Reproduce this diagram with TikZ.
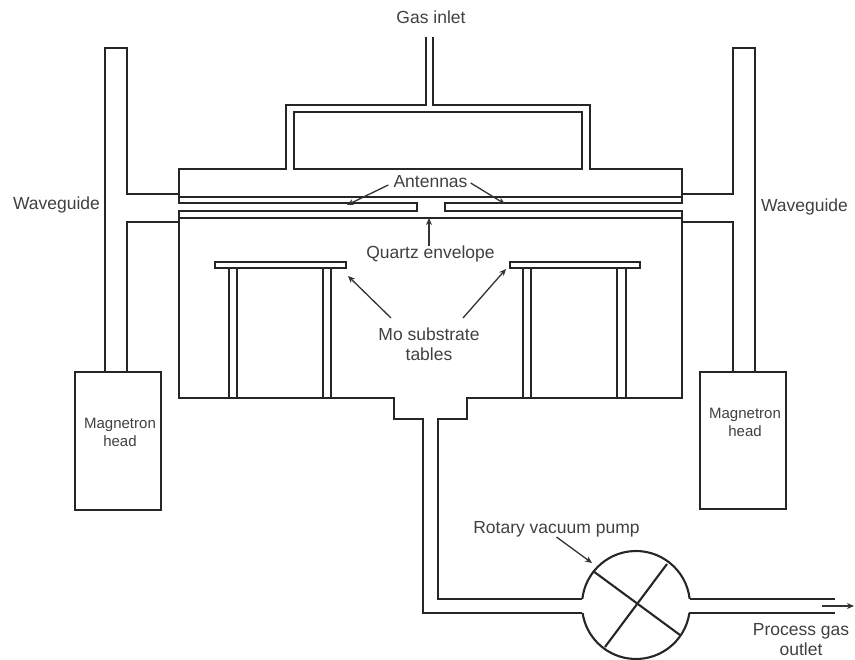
\documentclass[tikz,border=0pt]{standalone}
\usepackage{fontspec}
\setmainfont{Liberation Sans}
\usetikzlibrary{arrows.meta}

\begin{document}
\begin{tikzpicture}
[x=1pt, y=-1pt, >=Stealth,
    wall/.style={draw=black!85, line width=2.1pt, line join=miter},
    leader/.style={draw=black!80, line width=1.3pt, ->, >={Stealth[length=7pt,width=6pt]}},
    every node/.style={text=black!75, font=\fontsize{17.5}{20}\selectfont, align=center, inner sep=0pt},
    headtext/.style={font=\fontsize{15}{18}\selectfont},
    ]
    \useasboundingbox (0,0) rectangle (855,660);

    % gas feed and top box
    \path[wall] (426,37) -- (426,105) -- (286,105) -- (286,169) -- (179,169) -- (179,203)
        -- (417,203) -- (417,211) -- (179,211) -- (179,398) -- (394,398) -- (394,419)
        -- (423,419) -- (423,613) -- (582,613);
    \path[wall] (433,37) -- (433,105) -- (590,105) -- (590,169) -- (682,169) -- (682,203)
        -- (445,203) -- (445,211) -- (682,211) -- (682,398) -- (467,398) -- (467,419)
        -- (438,419) -- (438,599) -- (582,599);
    \path[wall] (294,112) rectangle (582,169);
    \path[wall] (179,197) -- (682,197);
    \path[wall] (179,218) -- (682,218);

    % waveguides
    \path[wall] (179,222) -- (127,222) -- (127,372);
    \path[wall] (179,194) -- (127,194) -- (127,48) -- (105,48) -- (105,372);
    \path[wall] (682,194) -- (733,194) -- (733,48) -- (755,48) -- (755,372);
    \path[wall] (682,222) -- (733,222) -- (733,372);

    % magnetrons
    \path[wall] (75,372) rectangle (161,510);
    \path[wall] (700,372) rectangle (786,509);
    \node[headtext] (head_left) at (120,432) {Magnetron\\head};
    \node[headtext] (head_right) at (745,422) {Magnetron\\head};

    % substrate tables
    \path[wall] (215,262) rectangle (346,268);
    \path[wall] (229,268) -- (229,398);
    \path[wall] (237,268) -- (237,398);
    \path[wall] (323,268) -- (323,398);
    \path[wall] (331,268) -- (331,398);
    \path[wall] (510,262) rectangle (640,268);
    \path[wall] (523,268) -- (523,398);
    \path[wall] (531,268) -- (531,398);
    \path[wall] (617,268) -- (617,398);
    \path[wall] (626,268) -- (626,398);

    % pump
    \coordinate (pump) at (636,605);
    \path[wall] (pump) ++(-6.4:54) arc[start angle=-6.4, end angle=-173.6, radius=54];
    \path[wall] (pump) ++(8.5:54) arc[start angle=8.5, end angle=171.5, radius=54];
    \path[wall] (593,571) -- (680,635);
    \path[wall] (667,564) -- (605,647);
    \path[wall] (690,599) -- (835,599);
    \path[wall] (689,613) -- (835,613);

    % labels
    \node (gas) at (431,17) {Gas inlet};
    \node (wg_left) at (56.5,205) {Waveguide};
    \node (wg_right) at (804.5,207) {Waveguide};
    \node (antennas) at (430.5,182) {Antennas};
    \node (quartz) at (430.5,254) {Quartz envelope};
    \node (tables) at (429,344) {Mo substrate\\tables};
    \node (rotary) at (556.5,529) {Rotary vacuum pump};
    \node (outlet) at (801,640) {Process gas\\outlet};

    % leaders
    \coordinate (ant_l) at (347,205);
    \coordinate (ant_r) at (505,204);
    \coordinate (quartz_tip) at (429,218);
    \coordinate (tab_l) at (348,276);
    \coordinate (tab_r) at (506,269);
    \coordinate (tab_l_from) at (391,318);
    \coordinate (tab_r_from) at (463,318);
    \coordinate (pump_tip) at (592,563);
    \coordinate (out_from) at (822,606);
    \coordinate (out_to) at (854,606);
    \draw[leader] (antennas.west) ++(-5,3) -- (ant_l);
    \draw[leader] (antennas.east) ++(3,1) -- (ant_r);
    \draw[leader] (quartz.north -| quartz_tip) -- (quartz_tip);
    \draw[leader] (tab_l_from) -- (tab_l);
    \draw[leader] (tab_r_from) -- (tab_r);
    \draw[leader] (rotary.south) -- (pump_tip);
    \draw[leader] (out_from) -- (out_to);

\end{tikzpicture}
\end{document}
